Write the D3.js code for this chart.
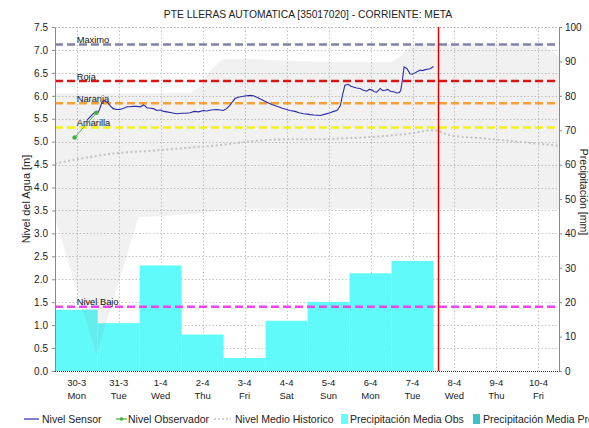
<!DOCTYPE html>
<html>
<head>
<meta charset="utf-8">
<script src="https://cdn.jsdelivr.net/npm/d3@7"></script>
<style>
  body { margin: 0; background: #fff; }
  svg text { font-family: "Liberation Sans", Arial, sans-serif; }
</style>
</head>
<body>
<svg id="chart" width="589" height="428"></svg>
<script>
// Station series. Time is in days, 0 = 30-3 (Mon) at the axis tick.
const dateLabels = ["30-3", "31-3", "1-4", "2-4", "3-4", "4-4", "5-4", "6-4", "7-4", "8-4", "9-4", "10-4"];
const weekdayLabels = ["Mon", "Tue", "Wed", "Thu", "Fri", "Sat", "Sun", "Mon", "Tue", "Wed", "Thu", "Fri"];

// Daily mean precipitation [mm], one bar per day
const precipDays = [-1, 0, 1, 2, 3, 4, 5, 6, 7, 8];
const precipObs  = [32, 17.8, 13.9, 30.7, 10.6, 3.8, 14.6, 20.1, 28.4, 32.0];

// Water level from the automatic sensor [m]
const sensorDays = [0.24, 0.28, 0.36, 0.44, 0.50, 0.54, 0.60, 0.65, 0.73, 0.80, 0.87, 0.95, 1.03, 1.12, 1.20, 1.27,
  1.35, 1.43, 1.52, 1.59, 1.63, 1.67, 1.75, 1.83, 1.91, 2.00, 2.07, 2.15, 2.26, 2.38, 2.50, 2.60, 2.70, 2.80, 2.90,
  3.02, 3.10, 3.20, 3.34, 3.49, 3.57, 3.65, 3.72, 3.77, 3.85, 3.97, 4.05, 4.13, 4.21, 4.29, 4.40, 4.53, 4.65, 4.77,
  4.90, 5.08, 5.20, 5.30, 5.40, 5.50, 5.56, 5.66, 5.80, 5.92, 6.04, 6.12, 6.20, 6.28, 6.34, 6.39, 6.47, 6.53, 6.59,
  6.67, 6.75, 6.83, 6.91, 6.97, 7.03, 7.09, 7.15, 7.19, 7.23, 7.29, 7.35, 7.41, 7.47, 7.55, 7.63, 7.69, 7.72, 7.76,
  7.80, 7.87, 7.94, 8.00, 8.06, 8.12, 8.18, 8.24, 8.30, 8.36, 8.42, 8.50];
const sensorLevel = [5.46, 5.50, 5.58, 5.65, 5.63, 5.69, 5.86, 5.90, 5.86, 5.78, 5.72, 5.70, 5.70, 5.73, 5.76, 5.76,
  5.77, 5.77, 5.76, 5.80, 5.78, 5.74, 5.73, 5.72, 5.68, 5.69, 5.66, 5.65, 5.63, 5.61, 5.62, 5.62, 5.63, 5.66, 5.65,
  5.68, 5.67, 5.69, 5.70, 5.68, 5.72, 5.79, 5.88, 5.94, 5.97, 5.99, 6.00, 6.01, 6.00, 5.97, 5.92, 5.86, 5.81, 5.77,
  5.73, 5.68, 5.66, 5.63, 5.61, 5.60, 5.59, 5.58, 5.57, 5.60, 5.63, 5.66, 5.68, 5.78, 6.05, 6.23, 6.25, 6.21, 6.19,
  6.17, 6.16, 6.12, 6.10, 6.14, 6.13, 6.09, 6.08, 6.12, 6.16, 6.11, 6.12, 6.14, 6.10, 6.09, 6.06, 6.07, 6.12, 6.35,
  6.63, 6.59, 6.48, 6.47, 6.50, 6.53, 6.56, 6.55, 6.57, 6.58, 6.59, 6.64];

// Readings taken by the observer [m]
const observerDays  = [-0.05, 0.47];
const observerLevel = [5.09, 5.63];

// Historic mean level [m]
const histMeanDays  = [-0.52, 0.15, 0.95, 1.75, 2.55, 3.35, 3.97, 4.92, 5.56, 6.30, 7.00, 7.95, 8.50, 8.90, 9.70, 10.50, 11.49];
const histMeanLevel = [4.52, 4.64, 4.75, 4.80, 4.86, 4.92, 4.99, 5.05, 5.05, 5.07, 5.10, 5.18, 5.25, 5.14, 5.07, 5.00, 4.91];

// Historic envelope: maximum and minimum recorded levels [m]
const histMaxDays  = [-0.52, 1.50, 2.70, 2.94, 3.18, 3.49, 4.13, 5.56, 7.47, 7.70, 7.94, 8.18, 11.04, 11.28, 11.49];
const histMaxLevel = [6.05, 6.05, 6.06, 6.20, 6.55, 6.80, 6.80, 6.74, 6.73, 6.85, 7.08, 7.14, 7.14, 7.00, 6.86];
const histMinDays  = [-0.52, 0.47, 1.47, 2.50, 3.50, 4.20, 11.49];
const histMinLevel = [3.35, 0.35, 3.35, 3.40, 3.50, 3.54, 3.53];

// Alert thresholds [m]
const thresholdNames  = ["Maximo", "Roja", "Naranja", "Amarilla", "Nivel Bajo"];
const thresholdLevels = [7.12, 6.32, 5.84, 5.31, 1.40];
const thresholdColors = ["#8282a8", "#dc1414", "#f9a032", "#f2f214", "#ee44ee"];

// Current time marker
const nowDay = 8.62;

const levelTicks  = d3.range(0, 7.51, 0.5);
const precipTicks = d3.range(0, 101, 10);

const W = 589, H = 428;
const plot = { left: 55, right: 559, top: 27, bottom: 371 };

const svg = d3.select("#chart");

const x  = d3.scaleLinear().domain([-0.517, 11.49]).range([plot.left, plot.right]);
const y  = d3.scaleLinear().domain([0, 7.5]).range([plot.bottom, plot.top]);
const yP = d3.scaleLinear().domain([0, 100]).range([plot.bottom, plot.top]);

svg.append("defs").append("clipPath").attr("id", "plotClip")
  .append("rect")
  .attr("x", plot.left).attr("y", plot.top)
  .attr("width", plot.right - plot.left).attr("height", plot.bottom - plot.top);

// Title
svg.append("text")
  .attr("x", 308).attr("y", 18)
  .attr("text-anchor", "middle")
  .attr("font-size", "10.3px").attr("fill", "#222")
  .text("PTE LLERAS AUTOMATICA [35017020] - CORRIENTE: META");

// Grid
const grid = svg.append("g").attr("stroke", "#c4c4c4").attr("stroke-width", 1).attr("stroke-dasharray", "1.5,2");
grid.selectAll("line.h").data(levelTicks.filter(v => v > 0)).join("line")
  .attr("x1", plot.left).attr("x2", plot.right)
  .attr("y1", d => Math.round(y(d)) + 0.5).attr("y2", d => Math.round(y(d)) + 0.5);
grid.selectAll("line.v").data(d3.range(dateLabels.length)).join("line")
  .attr("x1", d => Math.round(x(d)) + 0.5).attr("x2", d => Math.round(x(d)) + 0.5)
  .attr("y1", plot.top).attr("y2", plot.bottom);

const area = svg.append("g").attr("clip-path", "url(#plotClip)");

// Precipitation bars
area.selectAll("rect.bar").data(precipDays.map((d, i) => ({ d, v: precipObs[i] }))).join("rect")
  .attr("x", p => x(p.d - 0.5))
  .attr("width", p => x(p.d + 0.5) - x(p.d - 0.5))
  .attr("y", p => yP(p.v))
  .attr("height", p => yP(0) - yP(p.v))
  .attr("fill", "#60fafa");

// Historic envelope
const envelope = histMaxDays.map((d, i) => [x(d), y(histMaxLevel[i])])
  .concat(histMinDays.map((d, i) => [x(d), y(histMinLevel[i])]).reverse());
area.append("path")
  .attr("d", d3.line()(envelope) + "Z")
  .attr("fill", "#808080").attr("fill-opacity", 0.11);

// Historic mean
area.append("path")
  .attr("d", d3.line().curve(d3.curveMonotoneX)(histMeanDays.map((d, i) => [x(d), y(histMeanLevel[i])])))
  .attr("fill", "none").attr("stroke", "#c2c2c2").attr("stroke-width", 2)
  .attr("stroke-dasharray", "2,2.5");

// Thresholds
area.selectAll("line.th").data(thresholdLevels).join("line")
  .attr("x1", plot.left).attr("x2", plot.right)
  .attr("y1", d => y(d)).attr("y2", d => y(d))
  .attr("stroke", (d, i) => thresholdColors[i])
  .attr("stroke-width", 2.5)
  .attr("stroke-dasharray", "8,4");
area.selectAll("text.th").data(thresholdLevels).join("text")
  .attr("x", x(0)).attr("y", d => y(d) - 1.5)
  .attr("font-size", "9.3px").attr("fill", "#111")
  .text((d, i) => thresholdNames[i]);

// Sensor level
area.append("path")
  .attr("d", d3.line()(sensorDays.map((d, i) => [x(d), y(sensorLevel[i])])))
  .attr("fill", "none").attr("stroke", "#2a2aa8").attr("stroke-width", 1.1);

// Observer readings
const obsPts = observerDays.map((d, i) => [x(d), y(observerLevel[i])]);
area.append("path")
  .attr("d", d3.line()(obsPts))
  .attr("fill", "none").attr("stroke", "#44b044").attr("stroke-width", 1);
area.selectAll("circle.obs").data(obsPts).join("circle")
  .attr("cx", p => p[0]).attr("cy", p => p[1]).attr("r", 2.3)
  .attr("fill", "#44b044");

// Current time
area.append("line")
  .attr("x1", x(nowDay)).attr("x2", x(nowDay))
  .attr("y1", plot.top).attr("y2", plot.bottom)
  .attr("stroke", "#dd0000").attr("stroke-width", 1.5);

// Left axis
const leftAxis = svg.append("g").attr("transform", `translate(${plot.left},0)`)
  .call(d3.axisLeft(y).tickValues(levelTicks).tickFormat(d3.format(".1f")).tickSize(3).tickPadding(4));
leftAxis.select(".domain").attr("stroke", "#8a8a8a");
leftAxis.selectAll(".tick line").attr("stroke", "#8a8a8a");
leftAxis.selectAll(".tick text").attr("font-size", "10px").attr("fill", "#222")
  .attr("font-family", "Liberation Sans, Arial, sans-serif");

// Right axis
const rightAxis = svg.append("g").attr("transform", `translate(${plot.right},0)`)
  .call(d3.axisRight(yP).tickValues(precipTicks).tickFormat(d3.format("d")).tickSize(3).tickPadding(3));
rightAxis.select(".domain").attr("stroke", "#8a8a8a");
rightAxis.selectAll(".tick line").attr("stroke", "#8a8a8a");
rightAxis.selectAll(".tick text").attr("font-size", "10px").attr("fill", "#222")
  .attr("font-family", "Liberation Sans, Arial, sans-serif");

// Top border and bottom axis line
svg.append("line")
  .attr("x1", plot.left).attr("x2", plot.right).attr("y1", plot.top + 0.5).attr("y2", plot.top + 0.5)
  .attr("stroke", "#b0b0b0").attr("stroke-dasharray", "1.5,2");
svg.append("line")
  .attr("x1", plot.left).attr("x2", plot.right).attr("y1", plot.bottom + 0.5).attr("y2", plot.bottom + 0.5)
  .attr("stroke", "#333").attr("stroke-width", 1.2).attr("stroke-dasharray", "1,1");

// Date / weekday labels
const xl = svg.append("g").attr("font-size", "9.5px").attr("fill", "#222").attr("text-anchor", "middle");
xl.selectAll("text.date").data(dateLabels).join("text")
  .attr("x", (d, i) => x(i)).attr("y", 386).text(d => d);
xl.selectAll("text.wd").data(weekdayLabels).join("text")
  .attr("x", (d, i) => x(i)).attr("y", 399).text(d => d);

// Axis titles
svg.append("text")
  .attr("transform", "translate(30,199) rotate(-90)")
  .attr("text-anchor", "middle").attr("font-size", "11px").attr("fill", "#222")
  .text("Nivel del Agua [m]");
svg.append("text")
  .attr("transform", "translate(580,192) rotate(90)")
  .attr("text-anchor", "middle").attr("font-size", "10.5px").attr("fill", "#222")
  .text("Precipitación [mm]");

// Legend
const lg = svg.append("g").attr("font-size", "10.5px").attr("fill", "#222");
const ly = 423, lm = 419;
lg.append("line").attr("x1", 24).attr("x2", 39).attr("y1", lm).attr("y2", lm)
  .attr("stroke", "#2a2aa8").attr("stroke-width", 1.2);
lg.append("text").attr("x", 42).attr("y", ly).text("Nivel Sensor");
lg.append("line").attr("x1", 116).attr("x2", 127).attr("y1", lm).attr("y2", lm)
  .attr("stroke", "#44b044").attr("stroke-width", 1.2);
lg.append("circle").attr("cx", 121.5).attr("cy", lm).attr("r", 1.8).attr("fill", "#44b044");
lg.append("text").attr("x", 128).attr("y", ly).text("Nivel Observador");
lg.append("line").attr("x1", 214).attr("x2", 231).attr("y1", lm).attr("y2", lm)
  .attr("stroke", "#c2c2c2").attr("stroke-width", 1.5).attr("stroke-dasharray", "2,2");
lg.append("text").attr("x", 235).attr("y", ly).text("Nivel Medio Historico");
lg.append("rect").attr("x", 341).attr("y", 414).attr("width", 7).attr("height", 10).attr("fill", "#66ffff");
lg.append("text").attr("x", 350).attr("y", ly).text("Precipitación Media Obs");
lg.append("rect").attr("x", 473).attr("y", 414).attr("width", 7).attr("height", 10).attr("fill", "#3cc4c4");
lg.append("text").attr("x", 483).attr("y", ly).text("Precipitación Media Pronosticada");
</script>
</body>
</html>
